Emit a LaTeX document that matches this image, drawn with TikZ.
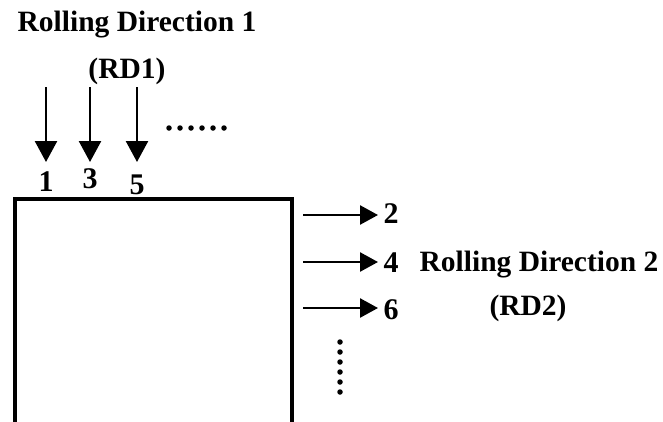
\documentclass[tikz,border=0pt]{standalone}
\usepackage{fontspec}
\setmainfont{Liberation Serif}
\usetikzlibrary{arrows.meta}
\begin{document}
\begin{tikzpicture}[x=1pt,y=-1pt,
  lbl/.style={font=\bfseries\fontsize{29.5}{33}\selectfont, inner sep=0pt},
  num/.style={font=\bfseries\fontsize{30}{34}\selectfont, inner sep=0pt},
  darr/.style={line width=2.5pt, -{Triangle[length=21pt,width=22pt]}},
  rarr/.style={line width=2.5pt, -{Triangle[length=18pt,width=19pt]}},
  dotm/.style={circle, fill=black, inner sep=0pt, minimum size=5.5pt}]
\useasboundingbox (0,0) rectangle (663,421);
% box
\draw[line width=3.5pt] (15,430) -- (15,199) -- (292,199) -- (292,430);
% titles
\node[lbl] (t1) at (137,25) {Rolling Direction 1};
\node[lbl] (rd1) at (127,71) {(RD1)};
\node[lbl] (t2) at (539,265) {Rolling Direction 2};
\node[lbl] (rd2) at (528,308) {(RD2)};
% down arrows
\coordinate (a1s) at (46,87); \coordinate (a1e) at (46,162);
\coordinate (a3s) at (90,87); \coordinate (a3e) at (90,162);
\coordinate (a5s) at (137,87); \coordinate (a5e) at (137,162);
\draw[darr] (a1s) -- (a1e);
\draw[darr] (a3s) -- (a3e);
\draw[darr] (a5s) -- (a5e);
\node[num] (n1) at (46,182) {1};
\node[num] (n3) at (90,179) {3};
\node[num] (n5) at (137,185) {5};
% horizontal dots
\foreach \i in {0,...,5} \node[dotm] (hd\i) at (169+\i*11,128) {};
% right arrows
\coordinate (b2s) at (303,215); \coordinate (b2e) at (378,215);
\coordinate (b4s) at (303,262); \coordinate (b4e) at (378,262);
\coordinate (b6s) at (303,308); \coordinate (b6e) at (378,308);
\draw[rarr] (b2s) -- (b2e);
\draw[rarr] (b4s) -- (b4e);
\draw[rarr] (b6s) -- (b6e);
\node[num] (n2) at (391,214) {2};
\node[num] (n4) at (391,263) {4};
\node[num] (n6) at (391,310) {6};
% vertical dots
\foreach \i in {0,...,5} \node[dotm] (vd\i) at (340,342+\i*10) {};
\end{tikzpicture}
\end{document}
